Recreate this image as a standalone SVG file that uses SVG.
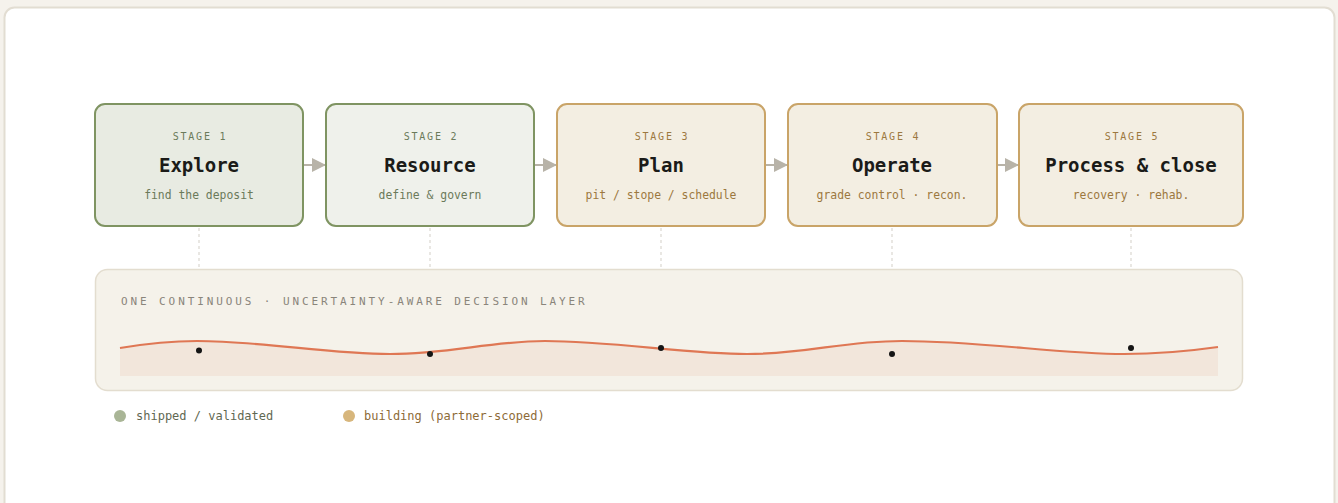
<svg xmlns="http://www.w3.org/2000/svg" width="1338" height="503" viewBox="0 0 1338 503">
<style>
.mono{font-family:"DejaVu Sans Mono","Liberation Mono",monospace}
.stage{font-size:10px;letter-spacing:1.8px;text-anchor:middle}
.name{font-size:19px;font-weight:bold;fill:#1b1b18;text-anchor:middle}
.sub{font-size:11.4px;text-anchor:middle}
.g rect{fill:#e8ebe2;stroke:#7f9462;stroke-width:2}
.g2 rect{fill:#eff1eb}
.g text.stage,.g text.sub{fill:#6b7a5a}
.y rect{fill:#f3eee2;stroke:#c9a468;stroke-width:2}
.y text.stage,.y text.sub{fill:#9c7840}
.dash{stroke:#d3cfc7;stroke-width:1;stroke-dasharray:3 3}
.arr{stroke:#b8b3a8;stroke-width:2}
</style>
<defs>
<marker id="ah" viewBox="0 0 10 10" refX="10" refY="5" markerWidth="16" markerHeight="14" markerUnits="userSpaceOnUse" orient="auto"><path d="M0,0 L10,5 L0,10 Z" fill="#b8b3a8"/></marker>
</defs>
<rect x="0" y="0" width="1338" height="503" fill="#f5f2ec"/>
<rect x="4.5" y="7.5" width="1330" height="510" rx="10" fill="#ffffff" stroke="#e2ddd2" stroke-width="2"/>

<g id="connectors">
<line class="arr" x1="304" y1="165" x2="326" y2="165" marker-end="url(#ah)"/>
<line class="arr" x1="535" y1="165" x2="557" y2="165" marker-end="url(#ah)"/>
<line class="arr" x1="766" y1="165" x2="788" y2="165" marker-end="url(#ah)"/>
<line class="arr" x1="998" y1="165" x2="1019" y2="165" marker-end="url(#ah)"/>
<line class="dash" x1="199" y1="228" x2="199" y2="268"/>
<line class="dash" x1="430" y1="228" x2="430" y2="268"/>
<line class="dash" x1="661" y1="228" x2="661" y2="268"/>
<line class="dash" x1="892" y1="228" x2="892" y2="268"/>
<line class="dash" x1="1131" y1="228" x2="1131" y2="268"/>
</g>

<g id="stage1" class="g mono">
<rect x="95" y="104" width="208" height="122" rx="10"/>
<text class="stage" x="200" y="140">STAGE 1</text>
<text class="name" x="199" y="172">Explore</text>
<text class="sub" x="199" y="199">find the deposit</text>
</g>
<g id="stage2" class="g g2 mono">
<rect x="326" y="104" width="208" height="122" rx="10"/>
<text class="stage" x="431" y="140">STAGE 2</text>
<text class="name" x="430" y="172">Resource</text>
<text class="sub" x="430" y="199">define &amp; govern</text>
</g>
<g id="stage3" class="y mono">
<rect x="557" y="104" width="208" height="122" rx="10"/>
<text class="stage" x="662" y="140">STAGE 3</text>
<text class="name" x="661" y="172">Plan</text>
<text class="sub" x="661" y="199">pit / stope / schedule</text>
</g>
<g id="stage4" class="y mono">
<rect x="788" y="104" width="209" height="122" rx="10"/>
<text class="stage" x="893" y="140">STAGE 4</text>
<text class="name" x="892" y="172">Operate</text>
<text class="sub" x="892" y="199">grade control · recon.</text>
</g>
<g id="stage5" class="y mono">
<rect x="1019" y="104" width="224" height="122" rx="10"/>
<text class="stage" x="1132" y="140">STAGE 5</text>
<text class="name" x="1131" y="172">Process &amp; close</text>
<text class="sub" x="1131" y="199">recovery · rehab.</text>
</g>

<g id="decision-layer">
<rect x="95.5" y="269.5" width="1147" height="121" rx="12" fill="#f5f2ea" stroke="#e3ddcf" stroke-width="1.5"/>
<text class="mono" x="121" y="304.5" font-size="11" letter-spacing="2.9" fill="#8a857b">ONE CONTINUOUS · UNCERTAINTY-AWARE DECISION LAYER</text>
<path d="M120,348 C150,343 170,341 197,341 C260,341 330,354 390,354 C450,354 490,341 545,341 C610,341 690,354 747,354 C810,354 840,341 902,341 C980,341 1060,354 1124,354 C1160,354 1190,351 1218,347 L1218,376 L120,376 Z" fill="#f2e6db"/>
<path d="M120,348 C150,343 170,341 197,341 C260,341 330,354 390,354 C450,354 490,341 545,341 C610,341 690,354 747,354 C810,354 840,341 902,341 C980,341 1060,354 1124,354 C1160,354 1190,351 1218,347" fill="none" stroke="#df7754" stroke-width="2.2"/>
<circle cx="199" cy="350.5" r="3" fill="#151515"/>
<circle cx="430" cy="354" r="3" fill="#151515"/>
<circle cx="661" cy="348" r="3" fill="#151515"/>
<circle cx="892" cy="354" r="3" fill="#151515"/>
<circle cx="1131" cy="348" r="3" fill="#151515"/>
</g>

<g id="legend" class="mono" font-size="12">
<circle cx="120" cy="416" r="6" fill="#a9b596"/>
<text x="136" y="420" fill="#5f6852">shipped / validated</text>
<circle cx="349" cy="416" r="6" fill="#d7b67c"/>
<text x="364" y="420" fill="#8d6b37">building (partner-scoped)</text>
</g>
</svg>
